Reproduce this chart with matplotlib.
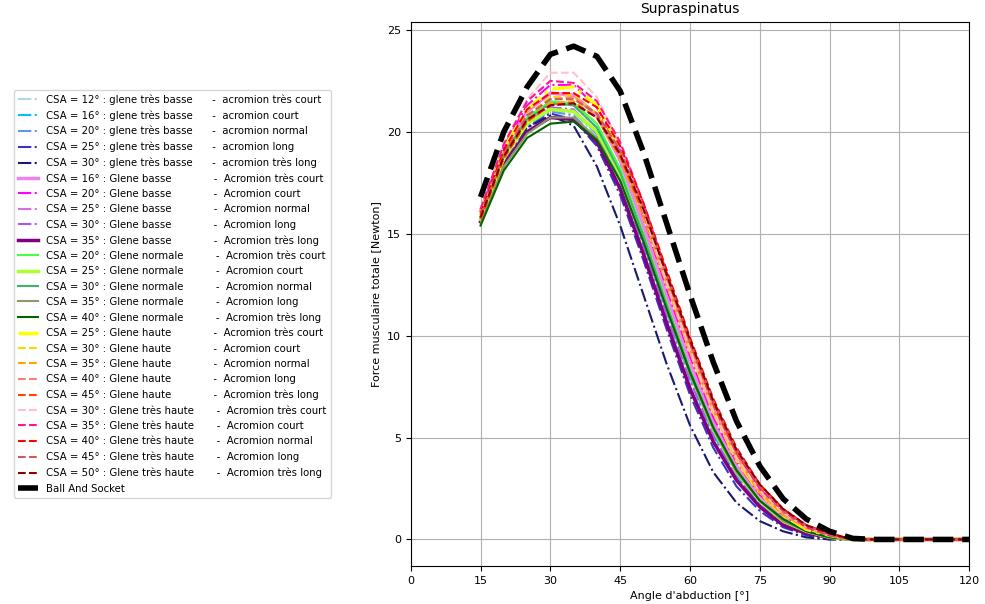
import matplotlib
matplotlib.use("Agg")
import matplotlib.pyplot as plt

angles = [15, 20, 25, 30, 35, 40, 45, 50, 55, 60, 65, 70, 75, 80, 85, 90, 95, 100, 105, 110, 115, 120]

labels = [
 "CSA = 12° : glene très basse      -  acromion très court",
 "CSA = 16° : glene très basse      -  acromion court",
 "CSA = 20° : glene très basse      -  acromion normal",
 "CSA = 25° : glene très basse      -  acromion long",
 "CSA = 30° : glene très basse      -  acromion très long",
 "CSA = 16° : Glene basse             -  Acromion très court",
 "CSA = 20° : Glene basse             -  Acromion court",
 "CSA = 25° : Glene basse             -  Acromion normal",
 "CSA = 30° : Glene basse             -  Acromion long",
 "CSA = 35° : Glene basse             -  Acromion très long",
 "CSA = 20° : Glene normale          -  Acromion très court",
 "CSA = 25° : Glene normale          -  Acromion court",
 "CSA = 30° : Glene normale          -  Acromion normal",
 "CSA = 35° : Glene normale          -  Acromion long",
 "CSA = 40° : Glene normale          -  Acromion très long",
 "CSA = 25° : Glene haute             -  Acromion très court",
 "CSA = 30° : Glene haute             -  Acromion court",
 "CSA = 35° : Glene haute             -  Acromion normal",
 "CSA = 40° : Glene haute             -  Acromion long",
 "CSA = 45° : Glene haute             -  Acromion très long",
 "CSA = 30° : Glene très haute       -  Acromion très court",
 "CSA = 35° : Glene très haute       -  Acromion court",
 "CSA = 40° : Glene très haute       -  Acromion normal",
 "CSA = 45° : Glene très haute       -  Acromion long",
 "CSA = 50° : Glene très haute       -  Acromion très long",
]

Z = [0, 0, 0, 0, 0]
forces = [
 [15.8, 18.7, 20.3, 21.0, 20.9, 19.8, 17.6, 14.4, 11.0, 7.8, 5.1, 3.1, 1.7, 0.8, 0.3, 0.1, 0, 0] + Z[:4],
 [15.9, 18.8, 20.4, 21.1, 21.0, 19.9, 17.7, 14.6, 11.2, 8.0, 5.2, 3.1, 1.7, 0.8, 0.3, 0.1, 0, 0] + Z[:4],
 [15.8, 18.7, 20.3, 21.0, 20.8, 19.6, 17.3, 14.1, 10.7, 7.5, 4.8, 2.9, 1.6, 0.7, 0.3, 0.1, 0, 0] + Z[:4],
 [15.7, 18.6, 20.2, 20.9, 20.6, 19.3, 16.9, 13.7, 10.3, 7.1, 4.5, 2.6, 1.4, 0.6, 0.2, 0.0, 0, 0] + Z[:4],
 [15.8, 18.8, 20.2, 20.8, 20.3, 18.3, 15.4, 12.0, 8.6, 5.6, 3.3, 1.8, 0.9, 0.4, 0.1, 0.0, 0, 0] + Z[:4],
 [16.1, 19.2, 21.0, 21.9, 21.8, 20.8, 18.6, 15.4, 12.0, 8.7, 5.8, 3.6, 2.1, 1.1, 0.5, 0.2, 0, 0] + Z[:4],
 [16.1, 19.3, 21.3, 22.3, 22.3, 21.2, 19.0, 15.8, 12.3, 9.0, 6.0, 3.8, 2.2, 1.2, 0.5, 0.2, 0, 0] + Z[:4],
 [15.9, 19.0, 20.7, 21.4, 21.3, 20.2, 17.9, 14.8, 11.4, 8.2, 5.4, 3.3, 1.9, 0.9, 0.4, 0.1, 0, 0] + Z[:4],
 [15.8, 18.8, 20.5, 21.2, 21.1, 19.9, 17.6, 14.4, 11.0, 7.8, 5.1, 3.1, 1.7, 0.8, 0.3, 0.1, 0, 0] + Z[:4],
 [15.6, 18.4, 20.0, 20.7, 20.6, 19.5, 17.2, 14.0, 10.6, 7.4, 4.8, 2.9, 1.6, 0.7, 0.3, 0.1, 0, 0] + Z[:4],
 [15.8, 18.9, 20.7, 21.5, 21.4, 20.4, 18.2, 15.0, 11.6, 8.3, 5.5, 3.4, 1.9, 1.0, 0.4, 0.1, 0, 0] + Z[:4],
 [15.7, 18.7, 20.4, 21.1, 21.0, 20.0, 17.9, 14.8, 11.4, 8.2, 5.4, 3.3, 1.9, 0.9, 0.4, 0.1, 0, 0] + Z[:4],
 [15.8, 18.9, 20.6, 21.4, 21.3, 20.2, 18.0, 14.9, 11.5, 8.3, 5.5, 3.4, 1.9, 1.0, 0.4, 0.1, 0, 0] + Z[:4],
 [15.5, 18.3, 19.9, 20.7, 20.7, 19.7, 17.6, 14.6, 11.3, 8.1, 5.4, 3.3, 1.9, 0.9, 0.4, 0.1, 0, 0] + Z[:4],
 [15.4, 18.1, 19.7, 20.4, 20.5, 19.6, 17.6, 14.6, 11.3, 8.2, 5.5, 3.4, 1.9, 1.0, 0.4, 0.1, 0, 0] + Z[:4],
 [16.0, 19.2, 21.1, 22.1, 22.2, 21.3, 19.2, 16.1, 12.7, 9.3, 6.3, 3.9, 2.3, 1.2, 0.5, 0.2, 0, 0] + Z[:4],
 [15.9, 19.0, 20.8, 21.7, 21.8, 20.9, 18.9, 15.9, 12.5, 9.2, 6.2, 3.9, 2.3, 1.2, 0.5, 0.2, 0, 0] + Z[:4],
 [15.8, 18.8, 20.6, 21.4, 21.5, 20.7, 18.7, 15.8, 12.5, 9.2, 6.3, 4.0, 2.3, 1.2, 0.6, 0.2, 0, 0] + Z[:4],
 [15.9, 19.0, 20.8, 21.6, 21.7, 20.9, 18.9, 16.0, 12.7, 9.4, 6.4, 4.1, 2.4, 1.3, 0.6, 0.2, 0, 0] + Z[:4],
 [15.7, 18.7, 20.5, 21.3, 21.4, 20.7, 18.8, 16.0, 12.8, 9.6, 6.6, 4.2, 2.5, 1.3, 0.6, 0.2, 0, 0] + Z[:4],
 [16.2, 19.4, 21.6, 22.9, 22.9, 21.7, 19.3, 16.1, 12.6, 9.3, 6.3, 4.0, 2.4, 1.3, 0.6, 0.2, 0, 0] + Z[:4],
 [16.2, 19.4, 21.5, 22.5, 22.4, 21.5, 19.5, 16.5, 13.1, 9.7, 6.7, 4.3, 2.5, 1.4, 0.6, 0.2, 0, 0] + Z[:4],
 [16.0, 19.1, 21.1, 21.9, 21.9, 21.2, 19.3, 16.5, 13.2, 9.9, 6.9, 4.5, 2.7, 1.5, 0.7, 0.3, 0, 0] + Z[:4],
 [15.9, 18.9, 20.8, 21.6, 21.6, 20.9, 19.1, 16.3, 13.0, 9.7, 6.8, 4.4, 2.6, 1.4, 0.7, 0.2, 0, 0] + Z[:4],
 [15.8, 18.8, 20.6, 21.3, 21.4, 20.7, 18.9, 16.2, 13.0, 9.8, 6.8, 4.4, 2.7, 1.5, 0.7, 0.3, 0, 0] + Z[:4],
]
ball_socket = [16.8, 20.0, 22.2, 23.8, 24.2, 23.7, 22.0, 19.0, 15.5, 12.0, 8.7, 5.8, 3.6, 2.0, 1.0, 0.4, 0.05, 0, 0, 0, 0, 0]

colors = ["lightblue", "deepskyblue", "cornflowerblue", "#3535c8", "midnightblue",
          "violet", "magenta", "orchid", "#a35cf0", "purple",
          "#44ff44", "greenyellow", "mediumseagreen", "#8a9a6a", "darkgreen",
          "yellow", "gold", "orange", "salmon", "orangered",
          "pink", "deeppink", "red", "indianred", "darkred"]
styles = ["-."] * 5 + ["-", "-.", "-.", "-.", "-"] + ["-"] * 5 + ["-."] + ["--"] * 4 + ["--"] * 5
widths = [1.5] * 5 + [2.5, 1.5, 1.5, 1.5, 2.5] + [1.5, 2.5, 1.5, 1.5, 1.5] + [2.5, 1.5, 1.5, 1.5, 1.5] + [1.5] * 5

fig = plt.figure(figsize=(9.85, 6.04), dpi=100)
ax = fig.add_axes([0.417, 0.063, 0.567, 0.901])
for y, c, s, w, l in zip(forces, colors, styles, widths, labels):
    ax.plot(angles, y, color=c, linestyle=s, linewidth=w, label=l)
ax.plot(angles, ball_socket, color="black", linestyle="--", linewidth=4, label="Ball And Socket")
ax.set_xlim(0, 120)
ax.set_ylim(-1.3, 25.4)
ax.set_xticks(range(0, 121, 15))
ax.set_yticks([0, 5, 10, 15, 20, 25])
ax.grid(True)
ax.set_title("Supraspinatus", fontsize=10)
ax.set_xlabel("Angle d'abduction [°]", fontsize=8)
ax.set_ylabel("Force musculaire totale [Newton]", fontsize=8)
ax.tick_params(labelsize=8)
ax.legend(loc="center left", bbox_to_anchor=(-0.72, 0.5), fontsize=7.3, handlelength=2,
          labelspacing=0.53)
fig.savefig("out.png", dpi=100)
